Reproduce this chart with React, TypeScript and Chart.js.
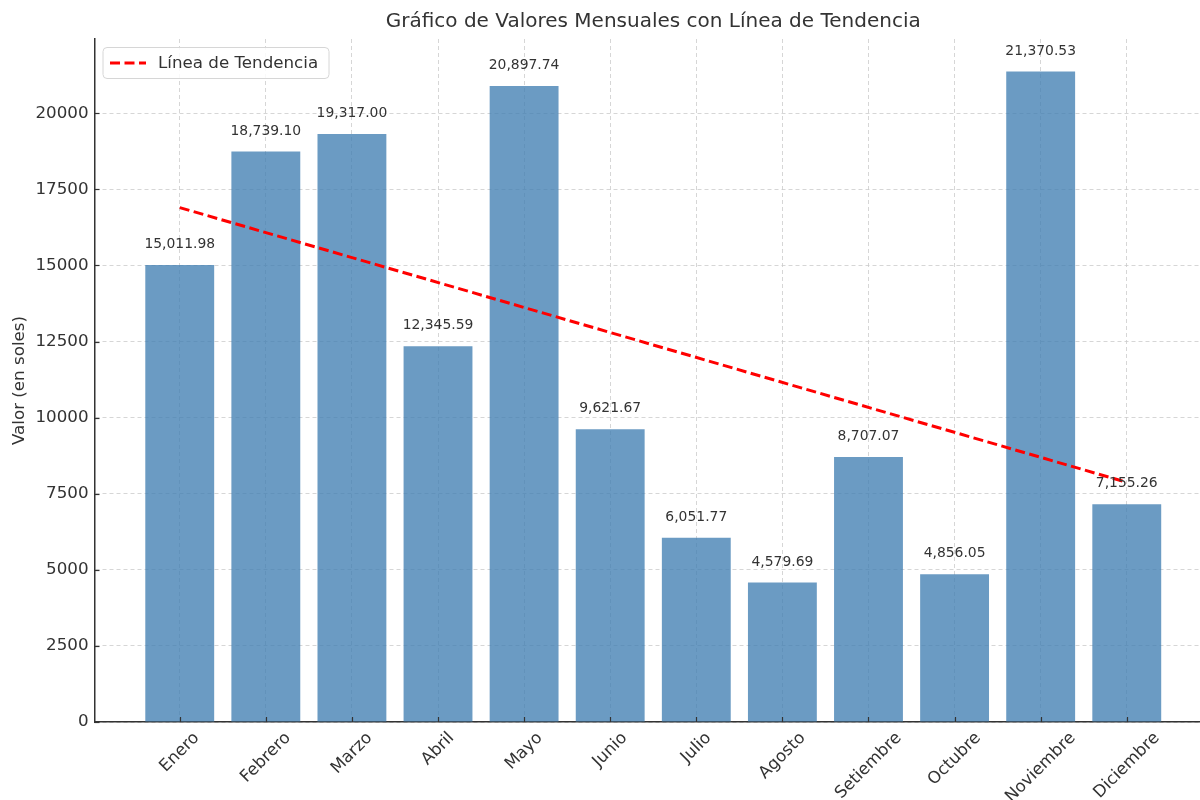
import React, { useEffect, useRef } from "react";
import { Chart, registerables } from "chart.js";

Chart.register(...registerables);

const categories = [
  "Enero", "Febrero", "Marzo", "Abril", "Mayo", "Junio",
  "Julio", "Agosto", "Setiembre", "Octubre", "Noviembre", "Diciembre",
];
const values = [
  15011.98, 18739.1, 19317.0, 12345.59, 20897.74, 9621.67,
  6051.77, 4579.69, 8707.07, 4856.05, 21370.53, 7155.26,
];
const trendX = [0, 11];
const trendValues = [16900, 7875];
const yTicks = [0, 2500, 5000, 7500, 10000, 12500, 15000, 17500, 20000];

const titleText = "Gráfico de Valores Mensuales con Línea de Tendencia";
const yLabelText = "Valor (en soles)";
const legendText = "Línea de Tendencia";

const FONT = "'DejaVu Sans', Verdana, sans-serif";
const TEXT = "#333333";
const W = 1220;
const H = 850;
const TICK_FONT = 16.7;

const fmt = (v: number) =>
  v.toLocaleString("en-US", { minimumFractionDigits: 2, maximumFractionDigits: 2 });

const overlay = {
  id: "overlay",
  afterDatasetsDraw(chart: any) {
    const ctx = chart.ctx;
    const meta = chart.getDatasetMeta(0);
    ctx.save();
    ctx.fillStyle = TEXT;
    ctx.font = `13.9px ${FONT}`;
    ctx.textAlign = "center";
    ctx.textBaseline = "middle";
    meta.data.forEach((bar: any, i: number) => {
      ctx.fillText(fmt(values[i]), bar.x, bar.y - 20.5);
    });
    ctx.restore();
  },
  afterDraw(chart: any) {
    const ctx = chart.ctx;
    const ca = chart.chartArea;
    const xs = chart.scales.x;
    const ys = chart.scales.y;
    ctx.save();
    // inward ticks
    ctx.strokeStyle = TEXT;
    ctx.lineWidth = 1.2;
    categories.forEach((_, i) => {
      const px = Math.round(xs.getPixelForValue(i)) + 0.5;
      ctx.beginPath();
      ctx.moveTo(px, ca.bottom);
      ctx.lineTo(px, ca.bottom - 5);
      ctx.stroke();
    });
    yTicks.forEach((v) => {
      const py = Math.round(ys.getPixelForValue(v)) + 0.5;
      ctx.beginPath();
      ctx.moveTo(ca.left, py);
      ctx.lineTo(ca.left + 5, py);
      ctx.stroke();
    });
    // x tick labels, rotated 45 degrees, bounding box centred on the tick
    ctx.fillStyle = TEXT;
    ctx.font = `${TICK_FONT}px ${FONT}`;
    ctx.textAlign = "center";
    ctx.textBaseline = "middle";
    const s = Math.SQRT1_2;
    categories.forEach((label, i) => {
      const px = xs.getPixelForValue(i);
      const w = ctx.measureText(label).width;
      const half = ((w + TICK_FONT) * s) / 2;
      const cy = ca.bottom + 7.5 + half;
      ctx.save();
      ctx.translate(px, cy);
      ctx.rotate(-Math.PI / 4);
      ctx.fillText(label, 0, 0);
      ctx.restore();
    });
    // title
    ctx.font = `20px ${FONT}`;
    ctx.fillText(titleText, (ca.left + ca.right) / 2, 22);
    // y label
    ctx.save();
    ctx.translate(20, (ca.top + ca.bottom) / 2);
    ctx.rotate(-Math.PI / 2);
    ctx.font = `16.7px ${FONT}`;
    ctx.fillText(yLabelText, 0, 0);
    ctx.restore();
    // legend
    const lx = ca.left + 8.5;
    const ly = ca.top + 8.5;
    const lw = 226;
    const lh = 31;
    ctx.beginPath();
    (ctx as any).roundRect(lx, ly, lw, lh, 4);
    ctx.fillStyle = "rgba(255,255,255,0.85)";
    ctx.fill();
    ctx.strokeStyle = "#d6d6d6";
    ctx.lineWidth = 1;
    ctx.stroke();
    ctx.beginPath();
    ctx.setLineDash([10, 4.5]);
    ctx.strokeStyle = "#ff0000";
    ctx.lineWidth = 3;
    ctx.moveTo(lx + 7, ly + lh / 2);
    ctx.lineTo(lx + 43, ly + lh / 2);
    ctx.stroke();
    ctx.setLineDash([]);
    ctx.fillStyle = TEXT;
    ctx.font = `16.7px ${FONT}`;
    ctx.textAlign = "left";
    ctx.fillText(legendText, lx + 55, ly + lh / 2 + 1);
    ctx.restore();
  },
};

export default function App() {
  const ref = useRef<HTMLCanvasElement | null>(null);
  useEffect(() => {
    if (!ref.current) return;
    const chart = new Chart(ref.current, {
      type: "bar",
      data: {
        datasets: [
          {
            type: "bar",
            label: "Valores",
            data: values.map((v, i) => ({ x: i, y: v })),
            backgroundColor: "rgba(70,130,180,0.8)",
            borderWidth: 0,
            barPercentage: 0.8,
            categoryPercentage: 1,
            order: 2,
          } as any,
          {
            type: "line",
            label: legendText,
            data: trendX.map((x, i) => ({ x, y: trendValues[i] })),
            borderColor: "#ff0000",
            borderWidth: 3,
            borderDash: [10, 4.5],
            pointRadius: 0,
            fill: false,
            order: 1,
          } as any,
        ],
      },
      options: {
        responsive: false,
        animation: false,
        layout: { padding: { top: 39, left: 0, right: 8, bottom: 0 } },
        plugins: { legend: { display: false }, title: { display: false }, tooltip: { enabled: false } },
        scales: {
          x: {
            type: "linear",
            min: -0.99,
            max: 11.99,
            offset: false,
            afterBuildTicks: (axis: any) => {
              axis.ticks = categories.map((_, i) => ({ value: i }));
            },
            afterFit: (scale: any) => {
              scale.height = H - 722;
            },
            ticks: {
              display: false,
              autoSkip: false,
              callback: (v: any) => categories[v] ?? "",
            },
            grid: { color: "#cccccc", lineWidth: 0.8, drawTicks: false, offset: false },
            border: { display: true, color: "#333333", width: 1.5, dash: [4, 3] },
          },
          y: {
            type: "linear",
            min: 0,
            max: 22439,
            afterBuildTicks: (axis: any) => {
              axis.ticks = yTicks.map((v) => ({ value: v }));
            },
            afterFit: (scale: any) => {
              scale.width = 94.5;
            },
            ticks: {
              padding: 6,
              color: TEXT,
              font: { family: FONT, size: TICK_FONT },
              callback: (v: any) => String(v),
            },
            grid: { color: "#cccccc", lineWidth: 0.8, drawTicks: false },
            border: { display: true, color: "#333333", width: 1.5, dash: [4, 3] },
          },
        },
      } as any,
      plugins: [overlay],
    });
    return () => chart.destroy();
  }, []);
  return (
    <div style={{ position: "fixed", left: 0, top: 0, width: 1200, height: 800, overflow: "hidden", background: "#fff" }}>
      <canvas ref={ref} width={W} height={H} style={{ width: W, height: H, display: "block" }} />
    </div>
  );
}
